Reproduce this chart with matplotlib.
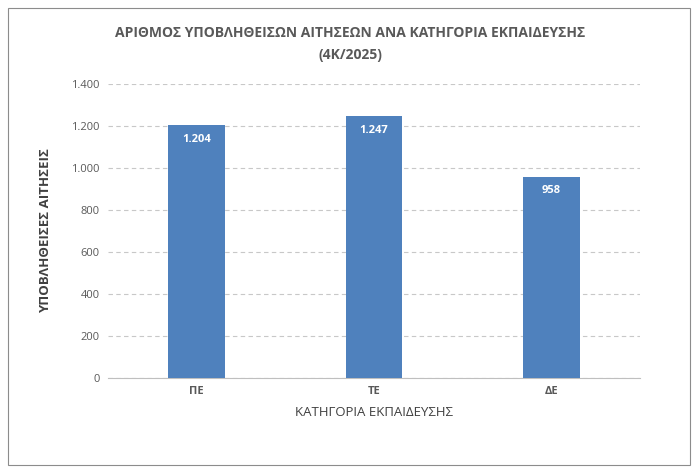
import matplotlib.pyplot as plt
from matplotlib.patches import Rectangle
from matplotlib.ticker import FuncFormatter

plt.rcParams['font.family'] = 'Open Sans'

categories = ["ΠΕ", "ΤΕ", "ΔΕ"]
values = [1204, 1247, 958]

def fmt(v, pos=None):
    return f"{int(v):,}".replace(",", ".")

fig = plt.figure(figsize=(7, 4.73), dpi=100)
ax = fig.add_axes([108/700, 1 - 378/473, 532/700, 294/473])

bars = ax.bar(range(len(categories)), values, width=0.32, color='#4F81BD', zorder=3)
for i, v in enumerate(values):
    ax.text(i, v - 40, fmt(v), ha='center', va='top', color='white',
            fontsize=8, fontweight='bold', zorder=4)

ax.set_xlim(-0.5, 2.5)
ax.set_ylim(0, 1400)
ax.set_yticks(range(0, 1401, 200))
ax.yaxis.set_major_formatter(FuncFormatter(fmt))
ax.set_xticks(range(len(categories)))
ax.set_xticklabels(categories, fontweight='bold')
ax.tick_params(axis='both', length=0, labelsize=8, colors='#595959', pad=6)
ax.grid(axis='y', linestyle=(0, (4, 3)), color='#c8c8c8', lw=0.8, zorder=0)
for s in ['top', 'right', 'left']:
    ax.spines[s].set_visible(False)
ax.spines['bottom'].set_color('#bfbfbf')

ax.set_xlabel("ΚΑΤΗΓΟΡΙΑ ΕΚΠΑΙΔΕΥΣΗΣ", fontsize=9.5, color='#404040', labelpad=6)
ax.set_ylabel("ΥΠΟΒΛΗΘΕΙΣΕΣ ΑΙΤΗΣΕΙΣ", fontsize=9.5, fontweight='bold', color='#404040', labelpad=14)

fig.text(0.5, 1 - 33/473, "ΑΡΙΘΜΟΣ ΥΠΟΒΛΗΘΕΙΣΩΝ ΑΙΤΗΣΕΩΝ ΑΝΑ ΚΑΤΗΓΟΡΙΑ ΕΚΠΑΙΔΕΥΣΗΣ",
         ha='center', va='center', fontsize=10, fontweight='bold', color='#595959')
fig.text(0.5, 1 - 55/473, "(4Κ/2025)", ha='center', va='center',
         fontsize=10, fontweight='bold', color='#595959')

fig.patches.append(Rectangle((8/700, 8/473), 682/700, 457/473, transform=fig.transFigure,
                             fill=False, edgecolor='#8c8c8c', lw=0.8))

fig.savefig("out.png", dpi=100)
